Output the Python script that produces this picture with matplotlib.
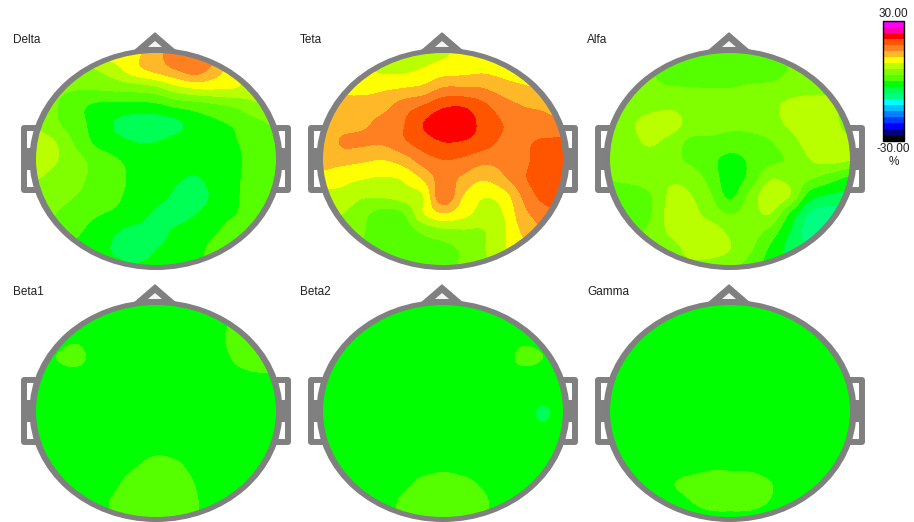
import numpy as np
import matplotlib
matplotlib.use("Agg")
import matplotlib.pyplot as plt
from matplotlib.colors import ListedColormap, BoundaryNorm
from matplotlib.patches import Ellipse, Polygon, Rectangle
from matplotlib.cm import ScalarMappable

plt.rcParams["font.family"] = ["Liberation Sans", "DejaVu Sans"]

# band colours of the scale, bottom to top
band_colors = ["#000000", "#000080", "#0000ff", "#003cff", "#0080ff", "#00c0ff", "#00ffff",
               "#00ff80", "#00ff55", "#00ff00", "#55ff00", "#80ff00", "#b9ff00", "#ffff00",
               "#ffb928", "#ff8020", "#ff5500", "#ff0000", "#ff00aa", "#ff00ff"]
band_edges = np.linspace(-30, 30, 21)

# change in %, 13 x 13 samples, top row first
delta = [
    [10.5, 10.5, 10.5, 10.5, 10.5, 11.5, 14, 17, 18, 16, 11, 11, 11],
    [3, 3.5, 4.5, 6, 8, 11, 13, 15, 16.5, 13.5, 10, 8, 6],
    [3.5, 3.5, 3.3, 3.5, 4, 4.5, 5.5, 8, 9.5, 9.5, 9, 7, 6],
    [4.5, 3.2, 1, -0.5, -1, -1, -0.8, 0.7, 1.5, 2.5, 3.5, 5.5, 5.5],
    [5.5, 3.5, 1.2, -1, -3.3, -4.5, -4.5, -3.7, -1.5, -0.5, 0.5, 2, 3.5],
    [7.5, 6, 2.5, -0.5, -2, -3, -3, -2, -1, -0.5, -0.1, 1.5, 2.8],
    [7.5, 6.2, 4, 2, 0.3, -1, -1.3, -1.5, -1.5, -1.2, -0.5, 1.5, 2.8],
    [6.2, 5, 3.5, 2.5, 1, -0.8, -1.5, -2.5, -3.2, -1.5, -0.4, 1.5, 2.8],
    [5, 4.2, 3, 2, 0.5, -1, -2, -3.5, -4.5, -2, -0.3, 1.5, 3],
    [4, 3, 1.5, 0.3, -0.5, -1.5, -3.5, -4, -3, -1.2, 0, 1.5, 2],
    [3, 2.5, 0.5, -1, -2.8, -4, -4, -2.5, -1.5, -0.2, 1.5, 2, 2],
    [2, 1, -0.5, -1.5, -3.5, -4.5, -3, -2, -0.8, 1, 2, 2, 2],
    [1, 0, -1, -1.5, -2, -2.5, -2, -1.5, -0.5, 1, 2, 2, 2],
]
teta = [
    [8, 8, 8, 8, 8, 8, 8.5, 10, 11, 11, 12, 12.5, 13],
    [11, 10, 9.5, 8.5, 8.5, 9.3, 10.5, 11, 11.5, 11, 10.5, 11, 12],
    [13, 11.5, 11, 11.5, 12, 12.8, 15.2, 15.3, 15, 13.5, 12.5, 11.8, 12],
    [14, 13, 13.5, 14, 16.5, 18.2, 20.5, 20.8, 18.8, 16.5, 15, 14.5, 14],
    [13, 13.5, 14.5, 16, 17.8, 21, 23, 23, 20, 18, 16.8, 16, 15.5],
    [12.5, 15.5, 15.5, 15.5, 17.5, 19.5, 21, 20.8, 19.5, 17.5, 17.5, 18.5, 18.7],
    [13, 13, 12.5, 12, 13.5, 16.5, 18, 17.5, 16, 16, 17, 20, 20],
    [11, 10, 9.3, 8.8, 9.5, 12.5, 16.5, 14.5, 12.5, 14.5, 17.5, 20, 20],
    [8, 8, 6.5, 6.5, 7.5, 9, 17.5, 12, 9.3, 10.5, 15.5, 19, 20],
    [6.5, 6, 3.8, 2, 2.8, 8.8, 11.8, 10, 8, 9, 14, 16.5, 18],
    [5, 4.5, 3.2, 1.5, 1.5, 3.5, 5, 5.5, 5.8, 8.5, 12.5, 15, 17],
    [4, 4, 3, 1.5, 1, 1.8, 2, 3.5, 5.7, 8.5, 11, 14, 16],
    [4, 4, 3, 1.5, 1, 1.5, 2, 3.5, 5, 8, 10, 12, 14],
]
alfa = [
    [3.5, 3.5, 2.8, 2, 1.5, 1.5, 1.5, 1.5, 2, 3, 3.5, 3.5, 3.5],
    [3.5, 3.5, 3.2, 1.5, 1, 1, 1, 1, 1.5, 3.2, 3.5, 4, 4],
    [3.5, 3.5, 3.6, 3.3, 3.1, 3, 3, 3.5, 3.8, 4.3, 5, 5.5, 5.5],
    [4, 4.2, 5, 5.5, 4.8, 4.5, 4.2, 4.2, 5, 7, 7.5, 6.5, 5],
    [4.5, 5.5, 7.5, 7.5, 5, 4, 3.5, 3.8, 4.8, 6.5, 7.5, 7, 5],
    [4.5, 5, 6.5, 5, 2.5, 2.5, 2, 2, 2.8, 5, 7, 7.2, 6.5],
    [4.5, 4.5, 4.5, 4, 2.5, 1, -1, 0.5, 2.2, 3.5, 6, 7, 6.2],
    [3.2, 3.8, 4.5, 5.5, 4.8, 2, -1.5, 1, 5.7, 5, 3.5, 1.5, -0.5],
    [2, 1.5, 2.8, 6.5, 6.2, 3.5, -0.5, 4, 8, 6, -1.5, -3.5, -4],
    [2, 2, 2.8, 7, 7, 5, 3, 4.5, 6, -0.3, -6.5, -7.5, -7],
    [2.5, 2.5, 3.5, 6.5, 7.5, 7.5, 5.5, 4.5, 2, -3, -7.5, -8, -7],
    [3, 3, 3.5, 4.5, 7, 7, 6, 3.5, -0.5, -4, -6, -7, -7],
    [3, 3, 3, 4, 5, 5, 4, 1.5, -1, -3, -5, -6, -6],
]
beta1 = [
    [-1.5, -1.5, -1.5, -1.5, -1.5, -1.5, -1.5, -1.5, -1.5, -1.5, 0.5, 1.5, 1.5],
    [-1.5, -1.5, -1.5, -1.5, -1.5, -1.5, -1.5, -1.5, -1.5, -1.2, 0.8, 1.5, 1.5],
    [-1.5, -1.2, -0.4, -1.5, -1.5, -1.5, -1.5, -1.5, -1.5, -0.8, 1, 1.5, 1.5],
    [-1.5, 0, 1.3, -1.5, -1.5, -1.5, -1.5, -1.5, -1.5, -1.2, 0.4, 1.2, 1.5],
    [-1.5, -1.5, -1.5, -1.5, -1.5, -1.5, -1.5, -1.5, -1.5, -1.5, -0.7, -0.3, -0.3],
    [-1.5, -1.5, -1.5, -1.5, -1.5, -1.5, -1.5, -1.5, -1.5, -1.5, -1.5, -1.5, -1.5],
    [-1.5, -1.5, -1.5, -1.5, -1.5, -1.5, -1.5, -1.5, -1.5, -1.5, -1.5, -1.5, -1.5],
    [-1.5, -1.5, -1.5, -1.5, -1.5, -1.5, -1.5, -1.5, -1.5, -1.5, -1.5, -1.5, -1.5],
    [-1.5, -1.5, -1.5, -1.5, -1.5, -1.3, -0.7, -0.9, -1.5, -1.5, -1.5, -1.5, -1.5],
    [-1.5, -1.5, -1.5, -1.5, -1.2, -0.1, 1, 0.5, -0.8, -1.5, -1.5, -1.5, -1.5],
    [-1.5, -1.5, -1.5, -1.3, -0.3, 1.3, 1.5, 1.5, -0.1, -1.3, -1.5, -1.5, -1.5],
    [-1.5, -1.5, -1.5, -1, 0.5, 1.5, 1.5, 1.5, 0.2, -1.2, -1.5, -1.5, -1.5],
    [-1.5, -1.5, -1.5, -1, 0.5, 1.5, 1.5, 1.5, 0.2, -1.2, -1.5, -1.5, -1.5],
]
beta2 = [
    [-1.5, -1.5, -1.5, -1.5, -1.5, -1.5, -1.5, -1.5, -1.5, -1.5, -1.5, -1.5, -1.5],
    [-1.5, -1.5, -1.5, -1.5, -1.5, -1.5, -1.5, -1.5, -1.5, -1.5, -1.5, -1.5, -1.5],
    [-1.5, -1.5, -1.5, -1.5, -1.5, -1.5, -1.5, -1.5, -1.5, -1.5, -0.6, -0.9, -1.5],
    [-1.5, -1.5, -1.5, -1.5, -1.5, -1.5, -1.5, -1.5, -1.5, -1.5, 0.9, 0, -1.5],
    [-1.5, -1.5, -1.5, -1.5, -1.5, -1.5, -1.5, -1.5, -1.5, -1.5, -1.3, -1.5, -1.5],
    [-1.5, -1.5, -1.5, -1.5, -1.5, -1.5, -1.5, -1.5, -1.5, -1.5, -1.5, -1.5, -1.5],
    [-1.5, -1.5, -1.5, -1.5, -1.5, -1.5, -1.5, -1.5, -1.5, -1.5, -1.5, -3.5, -1.5],
    [-1.5, -1.5, -1.5, -1.5, -1.5, -1.5, -1.5, -1.5, -1.5, -1.5, -1.5, -2.3, -1.5],
    [-1.5, -1.5, -1.5, -1.5, -1.5, -1.5, -1.5, -1.5, -1.5, -1.5, -1.5, -1.5, -1.5],
    [-1.5, -1.5, -1.5, -1.5, -1.5, -1, -0.6, -1, -1.5, -1.5, -1.5, -1.5, -1.5],
    [-1.5, -1.5, -1.5, -1.5, -0.6, 0.8, 1.3, 0.8, -0.3, -1.5, -1.5, -1.5, -1.5],
    [-1.5, -1.5, -1.5, -1.2, 0.5, 1.5, 1.5, 1.5, 0.5, -1.2, -1.5, -1.5, -1.5],
    [-1.5, -1.5, -1.5, -1.2, 0.5, 1.5, 1.5, 1.5, 0.5, -1.2, -1.5, -1.5, -1.5],
]
gamma = [
    [-1.5, -1.5, -1.5, -1.5, -1.5, -1.5, -1.5, -1.5, -1.5, -1.5, -1.5, -1.5, -1.5],
    [-1.5, -1.5, -1.5, -1.5, -1.5, -1.5, -1.5, -1.5, -1.5, -1.5, -1.5, -1.5, -1.5],
    [-1.5, -1.5, -1.5, -1.5, -1.5, -1.5, -1.5, -1.5, -1.5, -1.5, -1.5, -1.5, -1.5],
    [-1.5, -1.5, -1.5, -1.5, -1.5, -1.5, -1.5, -1.5, -1.5, -1.5, -1.5, -1.5, -1.5],
    [-1.5, -1.5, -1.5, -1.5, -1.5, -1.5, -1.5, -1.5, -1.5, -1.5, -1.5, -1.5, -1.5],
    [-1.5, -1.5, -1.5, -1.5, -1.5, -1.5, -1.5, -1.5, -1.5, -1.5, -1.5, -1.5, -1.5],
    [-1.5, -1.5, -1.5, -1.5, -1.5, -1.5, -1.5, -1.5, -1.5, -1.5, -1.5, -1.5, -1.5],
    [-1.5, -1.5, -1.5, -1.5, -1.5, -1.5, -1.5, -1.5, -1.5, -1.5, -1.5, -1.5, -1.5],
    [-1.5, -1.5, -1.5, -1.5, -1.5, -1.5, -1.5, -1.5, -1.5, -1.5, -1.5, -1.5, -1.5],
    [-1.5, -1.5, -1.5, -1.5, -1.2, -0.5, -0.5, -0.7, -1.2, -1.5, -1.5, -1.5, -1.5],
    [-1.5, -1.5, -1.5, -0.3, 1, 1.5, 1.5, 1.5, 0.2, -1.3, -1.5, -1.5, -1.5],
    [-1.5, -1.5, -1.5, -1.5, -0.1, 1, 1.2, 1, -0.1, -1.5, -1.5, -1.5, -1.5],
    [-1.5, -1.5, -1.5, -1.5, -1.5, -1, -1, -1, -1.5, -1.5, -1.5, -1.5, -1.5],
]
panel_names = ["Delta", "Teta", "Alfa", "Beta1", "Beta2", "Gamma"]
panel_maps = [delta, teta, alfa, beta1, beta2, gamma]
scale_top = "30.00"
scale_bottom = "-30.00"
scale_unit = "%"

cmap = ListedColormap(band_colors)
norm = BoundaryNorm(band_edges, cmap.N)
GRAY = "#808080"

fig = plt.figure(figsize=(9.14, 5.22), dpi=100)
# whole figure is one axes in pixel units, y going down
ax = fig.add_axes([0, 0, 1, 1])
ax.set_axis_off()

for k, name in enumerate(panel_names):
    cx = [156, 443, 730][k % 3]
    cy = [159, 411][k // 3]
    # ears
    ax.add_patch(Rectangle((cx - 132, cy - 31), 264, 62, facecolor="white", edgecolor=GRAY,
                           lw=4.3, joinstyle="round", zorder=1))
    ax.add_patch(Rectangle((cx - 129, cy - 11), 258, 22, facecolor=GRAY, edgecolor="none", zorder=1))
    # nose
    ax.add_patch(Polygon([[cx - 23, cy - 107], [cx - 1, cy - 126], [cx + 21, cy - 107]], closed=True,
                         facecolor=GRAY, edgecolor=GRAY, lw=1, joinstyle="round", zorder=2))
    ax.add_patch(Polygon([[cx - 8, cy - 112], [cx - 1, cy - 118], [cx + 6, cy - 112]], closed=True,
                         facecolor="#f4f4f4", edgecolor="none", zorder=2))
    # head outline, then the map inside it
    ax.add_patch(Ellipse((cx, cy), 253, 222, facecolor=GRAY, edgecolor="none", zorder=3))
    im = ax.imshow(panel_maps[k], cmap=cmap, norm=norm, interpolation="catrom",
                   interpolation_stage="data", aspect="auto", zorder=4,
                   extent=[cx - 130, cx + 130, cy + 118, cy - 116])
    im.set_clip_path(Ellipse((cx, cy), 240, 212, transform=ax.transData))
    ax.text(cx - 143, cy - 119, name, fontsize=8.5, color="#202020", va="center", ha="left", zorder=5)

ax.set_xlim(0, 914)
ax.set_ylim(522, 0)

# colour scale
cax = fig.add_axes([883 / 914, 1 - 141 / 522, 21 / 914, 120 / 522])
cb = fig.colorbar(ScalarMappable(norm=norm, cmap=cmap), cax=cax, ticks=[])
cb.minorticks_off()
cb.outline.set_edgecolor("black")
cb.outline.set_linewidth(1.0)
ax.text(893.5, 14, scale_top, fontsize=8.5, color="#202020", ha="center", va="center")
ax.text(893.5, 149, scale_bottom, fontsize=8.5, color="#202020", ha="center", va="center")
ax.text(893.5, 162, scale_unit, fontsize=8.5, color="#202020", ha="center", va="center")

plt.savefig("out.png", dpi=100)
